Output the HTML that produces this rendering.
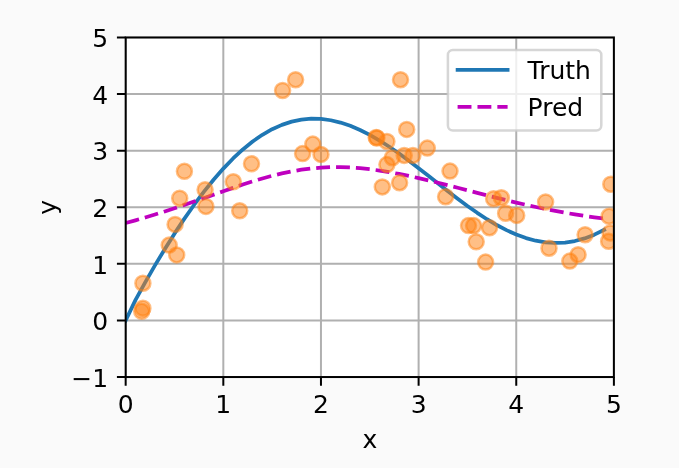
<!DOCTYPE html><html><head><meta charset="utf-8"><title>plot</title><style>html,body{margin:0;padding:0;background:#fafafa}svg{display:block;will-change:transform}</style></head><body>
<svg width="679" height="468" viewBox="0 0 679 468">
<rect width="679" height="468" fill="#fafafa"/>
<defs><clipPath id="c"><rect x="125.67" y="37.44" width="488.23" height="339.60"/></clipPath></defs>
<rect x="125.67" y="37.44" width="488.23" height="339.60" fill="#fff"/>
<path d="M125.67 377.04 V37.44 M223.32 377.04 V37.44 M320.96 377.04 V37.44 M418.61 377.04 V37.44 M516.25 377.04 V37.44 M613.90 377.04 V37.44 M125.67 377.04 H613.9 M125.67 320.44 H613.9 M125.67 263.84 H613.9 M125.67 207.24 H613.9 M125.67 150.64 H613.9 M125.67 94.04 H613.9 M125.67 37.44 H613.9" stroke="#b0b0b0" stroke-width="2" fill="none" clip-path="url(#c)"/>
<path d="M125.67 377.04 v8.75 M223.32 377.04 v8.75 M320.96 377.04 v8.75 M418.61 377.04 v8.75 M516.25 377.04 v8.75 M613.90 377.04 v8.75 M125.67 377.04 h-8.75 M125.67 320.44 h-8.75 M125.67 263.84 h-8.75 M125.67 207.24 h-8.75 M125.67 150.64 h-8.75 M125.67 94.04 h-8.75 M125.67 37.44 h-8.75" stroke="#000" stroke-width="2" fill="none"/>
<g clip-path="url(#c)">
<path d="M125.67 320.44 L135.43 300.17 L145.20 282.33 L154.96 265.38 L164.73 249.16 L174.49 233.66 L184.26 218.91 L194.02 204.97 L203.79 191.89 L213.55 179.74 L223.32 168.59 L233.08 158.47 L242.85 149.45 L252.61 141.55 L262.37 134.80 L272.14 129.24 L281.90 124.85 L291.67 121.65 L301.43 119.62 L311.20 118.73 L320.96 118.96 L330.73 120.26 L340.49 122.56 L350.26 125.82 L360.02 129.96 L369.78 134.89 L379.55 140.52 L389.31 146.77 L399.08 153.53 L408.84 160.70 L418.61 168.16 L428.37 175.80 L438.14 183.52 L447.90 191.19 L457.67 198.71 L467.43 205.95 L477.20 212.82 L486.96 219.21 L496.72 225.02 L506.49 230.16 L516.25 234.53 L526.02 238.07 L535.78 240.69 L545.55 242.35 L555.31 242.99 L565.08 242.56 L574.84 241.05 L584.61 238.42 L594.37 234.68 L604.14 229.83" stroke="#1f77b4" stroke-width="3.75" fill="none" stroke-linecap="square" stroke-linejoin="round"/>
<path d="M125.67 223.06 L135.43 220.34 L145.20 217.50 L154.96 214.53 L164.73 211.45 L174.49 208.26 L184.26 204.97 L194.02 201.60 L203.79 198.17 L213.55 194.71 L223.32 191.26 L233.08 187.87 L242.85 184.57 L252.61 181.42 L262.37 178.47 L272.14 175.79 L281.90 173.40 L291.67 171.36 L301.43 169.70 L311.20 168.45 L320.96 167.60 L330.73 167.16 L340.49 167.13 L350.26 167.48 L360.02 168.18 L369.78 169.21 L379.55 170.54 L389.31 172.12 L399.08 173.93 L408.84 175.93 L418.61 178.09 L428.37 180.38 L438.14 182.77 L447.90 185.23 L457.67 187.75 L467.43 190.28 L477.20 192.82 L486.96 195.33 L496.72 197.81 L506.49 200.23 L516.25 202.58 L526.02 204.83 L535.78 206.99 L545.55 209.03 L555.31 210.95 L565.08 212.74 L574.84 214.40 L584.61 215.92 L594.37 217.32 L604.14 218.58" stroke="#bf00bf" stroke-width="3.75" fill="none" stroke-dasharray="13.875 6" stroke-linejoin="round"/>
<g fill="#ff7f0e" fill-opacity="0.5" stroke="#ff7f0e" stroke-opacity="0.5" stroke-width="2.5">
<circle cx="141.7" cy="311.3" r="7.5"/>
<circle cx="142.9" cy="283.2" r="7.5"/>
<circle cx="142.9" cy="308.3" r="7.5"/>
<circle cx="169.2" cy="245.1" r="7.5"/>
<circle cx="175.1" cy="224.4" r="7.5"/>
<circle cx="176.7" cy="254.9" r="7.5"/>
<circle cx="179.7" cy="198.2" r="7.5"/>
<circle cx="184.4" cy="171.3" r="7.5"/>
<circle cx="205.1" cy="189.7" r="7.5"/>
<circle cx="205.9" cy="206.4" r="7.5"/>
<circle cx="233.3" cy="181.8" r="7.5"/>
<circle cx="239.7" cy="210.8" r="7.5"/>
<circle cx="251.5" cy="163.8" r="7.5"/>
<circle cx="282.6" cy="90.5" r="7.5"/>
<circle cx="295.6" cy="79.7" r="7.5"/>
<circle cx="302.6" cy="153.6" r="7.5"/>
<circle cx="312.8" cy="144.1" r="7.5"/>
<circle cx="321.0" cy="154.4" r="7.5"/>
<circle cx="376.2" cy="137.5" r="7.5"/>
<circle cx="376.9" cy="138.0" r="7.5"/>
<circle cx="382.3" cy="186.9" r="7.5"/>
<circle cx="386.9" cy="141.5" r="7.5"/>
<circle cx="386.9" cy="164.6" r="7.5"/>
<circle cx="392.3" cy="157.7" r="7.5"/>
<circle cx="399.6" cy="182.7" r="7.5"/>
<circle cx="400.5" cy="79.7" r="7.5"/>
<circle cx="404.2" cy="155.4" r="7.5"/>
<circle cx="406.7" cy="129.4" r="7.5"/>
<circle cx="412.9" cy="155.4" r="7.5"/>
<circle cx="427.3" cy="148.1" r="7.5"/>
<circle cx="445.6" cy="196.7" r="7.5"/>
<circle cx="450.0" cy="171.1" r="7.5"/>
<circle cx="468.5" cy="225.6" r="7.5"/>
<circle cx="473.6" cy="225.6" r="7.5"/>
<circle cx="476.2" cy="241.8" r="7.5"/>
<circle cx="485.6" cy="262.1" r="7.5"/>
<circle cx="489.5" cy="227.7" r="7.5"/>
<circle cx="493.6" cy="198.7" r="7.5"/>
<circle cx="501.3" cy="197.7" r="7.5"/>
<circle cx="505.6" cy="213.3" r="7.5"/>
<circle cx="516.7" cy="215.4" r="7.5"/>
<circle cx="545.6" cy="202.0" r="7.5"/>
<circle cx="549.0" cy="248.2" r="7.5"/>
<circle cx="569.8" cy="261.1" r="7.5"/>
<circle cx="578.1" cy="254.7" r="7.5"/>
<circle cx="585.1" cy="234.7" r="7.5"/>
<circle cx="608.6" cy="241.3" r="7.5"/>
<circle cx="609.1" cy="216.3" r="7.5"/>
<circle cx="610.1" cy="232.9" r="7.5"/>
<circle cx="610.8" cy="184.2" r="7.5"/>
</g></g>
<rect x="125.67" y="37.44" width="488.23" height="339.60" fill="none" stroke="#000" stroke-width="2" stroke-linejoin="miter"/>
<text x="125.67" y="413.3" text-anchor="middle" font-family="DejaVu Sans, Liberation Sans, sans-serif" font-size="25">0</text>
<text x="223.32" y="413.3" text-anchor="middle" font-family="DejaVu Sans, Liberation Sans, sans-serif" font-size="25">1</text>
<text x="320.96" y="413.3" text-anchor="middle" font-family="DejaVu Sans, Liberation Sans, sans-serif" font-size="25">2</text>
<text x="418.61" y="413.3" text-anchor="middle" font-family="DejaVu Sans, Liberation Sans, sans-serif" font-size="25">3</text>
<text x="516.25" y="413.3" text-anchor="middle" font-family="DejaVu Sans, Liberation Sans, sans-serif" font-size="25">4</text>
<text x="613.90" y="413.3" text-anchor="middle" font-family="DejaVu Sans, Liberation Sans, sans-serif" font-size="25">5</text>
<text x="108.1" y="386.79" text-anchor="end" font-family="DejaVu Sans, Liberation Sans, sans-serif" font-size="25">−1</text>
<text x="108.1" y="330.19" text-anchor="end" font-family="DejaVu Sans, Liberation Sans, sans-serif" font-size="25">0</text>
<text x="108.1" y="273.59" text-anchor="end" font-family="DejaVu Sans, Liberation Sans, sans-serif" font-size="25">1</text>
<text x="108.1" y="216.99" text-anchor="end" font-family="DejaVu Sans, Liberation Sans, sans-serif" font-size="25">2</text>
<text x="108.1" y="160.39" text-anchor="end" font-family="DejaVu Sans, Liberation Sans, sans-serif" font-size="25">3</text>
<text x="108.1" y="103.79" text-anchor="end" font-family="DejaVu Sans, Liberation Sans, sans-serif" font-size="25">4</text>
<text x="108.1" y="46.74" text-anchor="end" font-family="DejaVu Sans, Liberation Sans, sans-serif" font-size="25">5</text>
<text x="369.8" y="447.6" text-anchor="middle" font-family="DejaVu Sans, Liberation Sans, sans-serif" font-size="25">x</text>
<text transform="translate(55.8 207.24) rotate(-90)" text-anchor="middle" font-family="DejaVu Sans, Liberation Sans, sans-serif" font-size="25">y</text>
<rect x="447.9" y="50.0" width="153.4" height="80.6" rx="5" ry="5" fill="#fff" fill-opacity="0.8" stroke="#ccc" stroke-opacity="0.8" stroke-width="2.5"/>
<path d="M457.6 69.8 H507.6" stroke="#1f77b4" stroke-width="3.75" stroke-linecap="square" fill="none"/>
<path d="M457.6 106.8 H507.6" stroke="#bf00bf" stroke-width="3.75" stroke-dasharray="13.875 6" fill="none"/>
<text x="527.6" y="78.8" font-family="DejaVu Sans, Liberation Sans, sans-serif" font-size="25">Truth</text>
<text x="527.6" y="115.7" font-family="DejaVu Sans, Liberation Sans, sans-serif" font-size="25">Pred</text>
</svg></body></html>
